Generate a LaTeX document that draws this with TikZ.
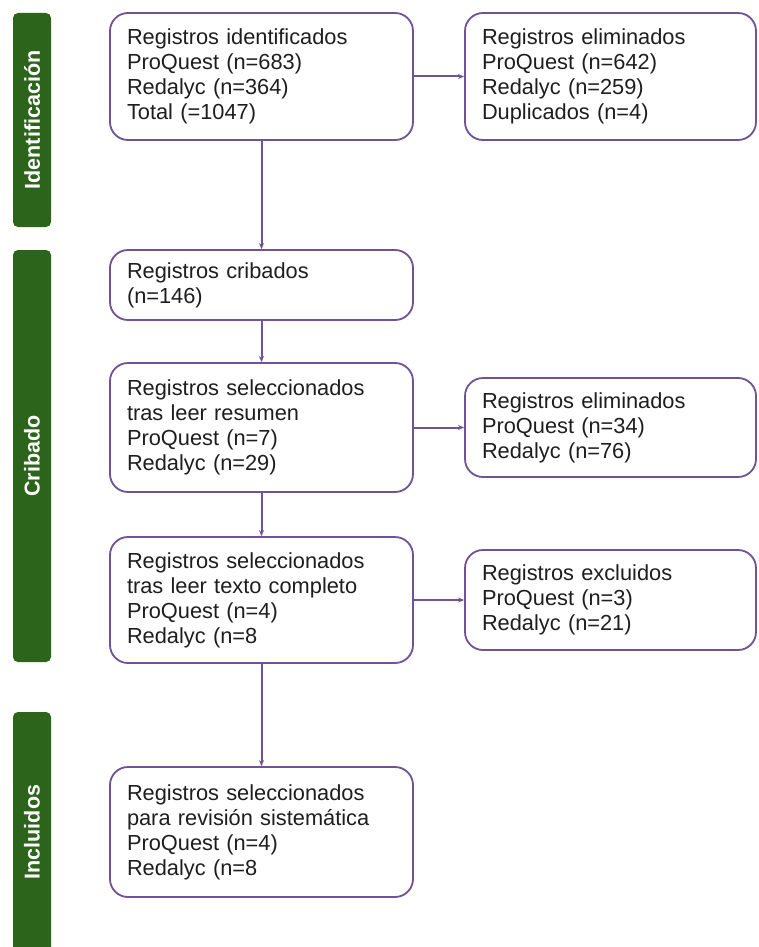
\documentclass[tikz,border=0pt]{standalone}
\usepackage{fontspec}
\setmainfont{Liberation Sans}
\usetikzlibrary{arrows.meta}
\definecolor{barGreen}{RGB}{44,100,28}
\definecolor{boxPurple}{RGB}{112,82,150}
\definecolor{txt}{RGB}{30,30,30}
\begin{document}
\begin{tikzpicture}[x=1pt,y=-1pt,
  stagebar/.style={fill=barGreen, rounded corners=5pt},
  stagelabel/.style={rotate=90, text=white, font=\fontsize{21.5}{24}\selectfont\bfseries, inner sep=0pt},
  flowbox/.style={draw=boxPurple, line width=1.8pt, rounded corners=18pt, align=left, inner sep=0pt,
     text=txt, font=\fontsize{21.8}{25}\selectfont},
  flow/.style={draw=boxPurple, line width=2pt, -{Stealth[length=6pt,width=5pt]}}]
\clip (0,0) rectangle (758,947);
\fill[white] (0,0) rectangle (758,947);
% stage bars
\fill[stagebar] (13,13) rectangle (51,227);
\fill[stagebar] (13,250) rectangle (51,662);
\fill[stagebar] (13,712) rectangle (51,970);
\node[stagelabel] (l1) at (32,120) {Identificación};
\node[stagelabel] (l2) at (32,456) {Cribado};
\node[stagelabel] (l3) at (32,832) {Incluidos};
% left column boxes
\node[flowbox, minimum width=303pt, minimum height=127pt, text width=269pt] (b1) at (261.5,76.5)
  {Registros identificados\\ProQuest (n=683)\\Redalyc (n=364)\\Total (=1047)};
\node[flowbox, minimum width=303pt, minimum height=70pt, text width=269pt] (b2) at (261.5,285)
  {Registros cribados\\(n=146)};
\node[flowbox, minimum width=303pt, minimum height=129pt, text width=269pt] (b3) at (261.5,427.5)
  {Registros seleccionados\\tras leer resumen\\ProQuest (n=7)\\Redalyc (n=29)};
\node[flowbox, minimum width=303pt, minimum height=126pt, text width=269pt] (b4) at (261.5,600)
  {Registros seleccionados\\tras leer texto completo\\ProQuest (n=4)\\Redalyc (n=8};
\node[flowbox, minimum width=303pt, minimum height=130pt, text width=269pt] (b5) at (261.5,832)
  {Registros seleccionados\\para revisión sistemática\\ProQuest (n=4)\\Redalyc (n=8};
% right column boxes
\node[flowbox, minimum width=291pt, minimum height=127pt, text width=257pt] (r1) at (610.5,76.5)
  {Registros eliminados\\ProQuest (n=642)\\Redalyc (n=259)\\Duplicados (n=4)};
\node[flowbox, minimum width=291pt, minimum height=99pt, text width=257pt] (r2) at (610.5,427.5)
  {Registros eliminados\\ProQuest (n=34)\\Redalyc (n=76)};
\node[flowbox, minimum width=291pt, minimum height=100pt, text width=257pt] (r3) at (610.5,600)
  {Registros excluidos\\ProQuest (n=3)\\Redalyc (n=21)};
% connectors
\draw[flow] (b1.south) -- (b2.north);
\draw[flow] (b2.south) -- (b3.north);
\draw[flow] (b3.south) -- (b4.north);
\draw[flow] (b4.south) -- (b5.north);
\draw[flow] (b1.east) -- (r1.west);
\draw[flow] (b3.east) -- (r2.west);
\draw[flow] (b4.east) -- (r3.west);
\end{tikzpicture}
\end{document}
